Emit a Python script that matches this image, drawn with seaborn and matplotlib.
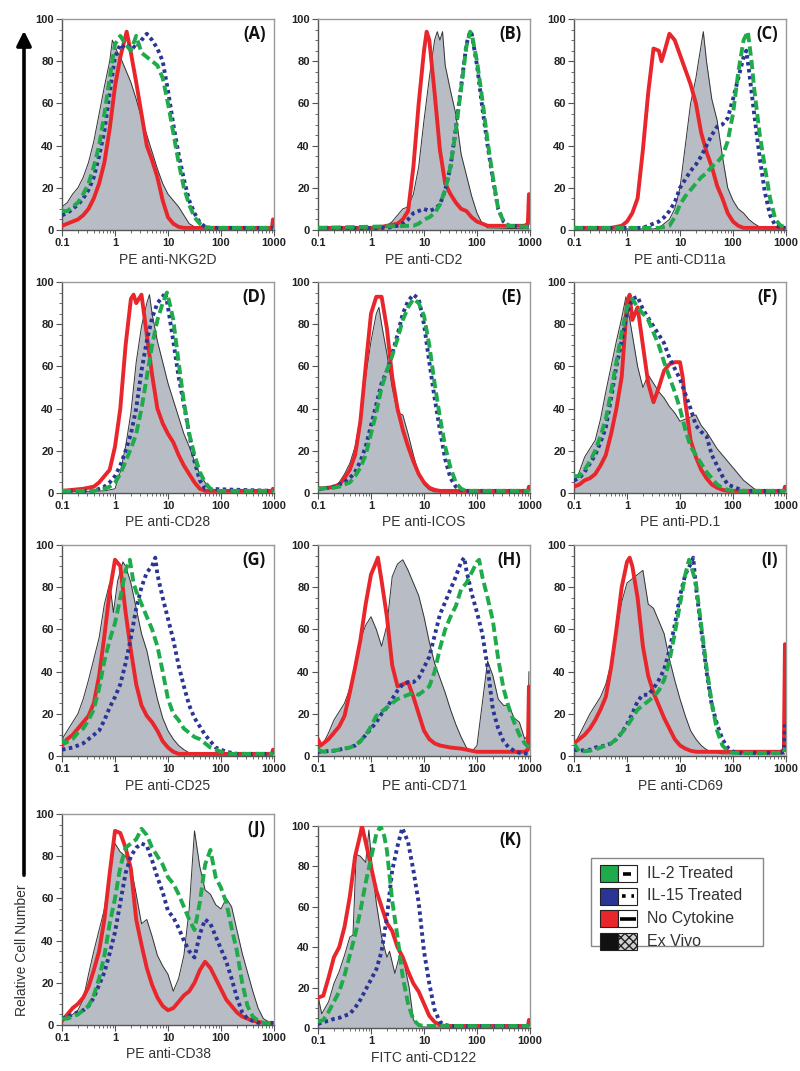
import numpy as np
import pandas as pd
import matplotlib
matplotlib.use('Agg')
import matplotlib.pyplot as plt
from matplotlib.patches import Rectangle
from matplotlib.ticker import LogLocator, NullFormatter, MultipleLocator
import seaborn as sns

# each curve: [log10(fluorescence), relative cell number]
A_GRAY = [[-1.0, 11], [-0.9, 13], [-0.8, 17], [-0.7, 20], [-0.6, 25], [-0.5, 32], [-0.4, 42], [-0.3, 55], [-0.2, 68], [-0.1, 80], [-0.05, 90], [0.05, 84], [0.1, 82], [0.2, 76], [0.3, 70], [0.4, 62], [0.5, 53], [0.6, 45], [0.7, 37], [0.8, 29], [0.9, 22], [1.0, 17], [1.1, 14], [1.2, 11], [1.3, 7], [1.4, 3], [1.5, 1.5], [1.6, 1], [2.98, 0.5]]
A_RED = [[-1.0, 2], [-0.8, 4], [-0.7, 5], [-0.6, 7], [-0.5, 10], [-0.4, 15], [-0.3, 22], [-0.2, 32], [-0.1, 48], [0.0, 68], [0.1, 82], [0.22, 94], [0.3, 84], [0.4, 70], [0.5, 55], [0.6, 40], [0.7, 33], [0.8, 25], [0.9, 14], [1.0, 6], [1.1, 3], [1.2, 1.5], [1.3, 1], [2.96, 1], [2.98, 5]]
A_BLUE = [[-1.0, 7], [-0.9, 8], [-0.8, 10], [-0.7, 12], [-0.6, 15], [-0.5, 19], [-0.4, 25], [-0.3, 35], [-0.2, 47], [-0.1, 65], [0.0, 82], [0.1, 88], [0.2, 86], [0.3, 88], [0.4, 86], [0.5, 90], [0.6, 93], [0.7, 90], [0.8, 86], [0.9, 80], [1.0, 66], [1.1, 50], [1.2, 36], [1.3, 24], [1.4, 14], [1.5, 8], [1.6, 3.5], [1.7, 1.5], [1.8, 1], [2.98, 1]]
A_GREEN = [[-1.0, 9], [-0.9, 9], [-0.8, 11], [-0.7, 13], [-0.6, 17], [-0.5, 22], [-0.4, 30], [-0.3, 40], [-0.2, 55], [-0.1, 72], [0.0, 88], [0.1, 92], [0.2, 88], [0.3, 85], [0.4, 92], [0.5, 84], [0.6, 82], [0.7, 80], [0.8, 78], [0.9, 72], [1.0, 60], [1.1, 46], [1.2, 32], [1.3, 20], [1.4, 12], [1.5, 6], [1.6, 3], [1.7, 1.5], [1.8, 1], [2.98, 1]]

B_GRAY = [[-1.0, 0.5], [0.2, 0.5], [0.3, 2], [0.4, 4], [0.5, 7], [0.6, 10], [0.7, 11], [0.8, 17], [0.9, 30], [1.0, 52], [1.1, 72], [1.2, 90], [1.25, 94], [1.3, 90], [1.35, 94], [1.4, 78], [1.5, 66], [1.6, 55], [1.7, 36], [1.8, 26], [1.9, 16], [2.0, 8], [2.1, 3], [2.2, 1], [2.98, 0.5]]
B_RED = [[-1.0, 1], [0.1, 1], [0.3, 2], [0.5, 3], [0.6, 5], [0.7, 9], [0.8, 30], [0.9, 60], [1.0, 85], [1.05, 94], [1.1, 90], [1.2, 65], [1.3, 38], [1.4, 22], [1.5, 17], [1.6, 13], [1.7, 10], [1.8, 9], [1.9, 6], [2.0, 4], [2.1, 3], [2.2, 2], [2.9, 2], [2.96, 3], [2.98, 17]]
B_BLUE = [[-1.0, 1], [0.3, 1], [0.5, 2], [0.6, 3], [0.7, 5], [0.8, 8], [0.9, 9], [1.0, 10], [1.1, 9], [1.2, 10], [1.3, 12], [1.4, 19], [1.5, 30], [1.6, 48], [1.7, 68], [1.8, 88], [1.87, 94], [1.9, 93], [2.0, 78], [2.1, 58], [2.2, 40], [2.3, 24], [2.4, 10], [2.5, 4], [2.6, 2], [2.98, 1.5]]
B_GREEN = [[-1.0, 1], [0.8, 2], [0.9, 3], [1.0, 5], [1.1, 6], [1.2, 8], [1.3, 12], [1.4, 19], [1.5, 30], [1.6, 47], [1.7, 67], [1.8, 87], [1.87, 94], [1.9, 93], [2.0, 80], [2.1, 62], [2.2, 42], [2.3, 25], [2.4, 10], [2.5, 4], [2.6, 2], [2.98, 1.5]]

C_GRAY = [[-1.0, 0.5], [0.5, 0.5], [0.6, 1], [0.7, 3], [0.8, 5], [0.9, 10], [1.0, 20], [1.1, 40], [1.2, 60], [1.3, 72], [1.35, 80], [1.44, 94], [1.5, 80], [1.6, 62], [1.7, 52], [1.8, 35], [1.9, 20], [2.0, 14], [2.1, 10], [2.2, 8], [2.3, 5], [2.4, 3], [2.5, 1.5], [2.6, 0.5], [2.98, 0.5]]
C_RED = [[-1.0, 1], [-0.3, 1], [-0.1, 2], [0.0, 4], [0.1, 8], [0.2, 15], [0.3, 38], [0.4, 65], [0.5, 86], [0.6, 85], [0.65, 80], [0.7, 84], [0.8, 93], [0.9, 90], [1.0, 83], [1.1, 76], [1.2, 69], [1.3, 60], [1.4, 46], [1.5, 37], [1.6, 30], [1.7, 21], [1.8, 15], [1.9, 8], [2.0, 4], [2.1, 2], [2.2, 1], [2.98, 1]]
C_BLUE = [[-1.0, 1], [0.3, 1], [0.4, 2], [0.5, 3], [0.6, 4], [0.7, 6], [0.8, 9], [0.9, 13], [1.0, 20], [1.1, 24], [1.2, 28], [1.3, 31], [1.4, 35], [1.5, 40], [1.6, 45], [1.7, 49], [1.8, 50], [1.9, 53], [2.0, 62], [2.1, 72], [2.2, 82], [2.25, 85], [2.3, 76], [2.4, 55], [2.5, 35], [2.6, 18], [2.7, 7], [2.8, 2], [2.98, 1]]
C_GREEN = [[-1.0, 1], [0.6, 1], [0.8, 2], [0.9, 6], [1.0, 12], [1.1, 16], [1.2, 19], [1.3, 22], [1.4, 25], [1.5, 27], [1.6, 30], [1.7, 32], [1.8, 35], [1.9, 42], [2.0, 55], [2.1, 75], [2.2, 90], [2.28, 94], [2.35, 80], [2.4, 67], [2.5, 46], [2.6, 30], [2.7, 15], [2.8, 5], [2.9, 2], [2.98, 1.5]]

D_GRAY = [[-1.0, 0.5], [-0.2, 1], [0.0, 2], [0.1, 10], [0.2, 22], [0.3, 38], [0.4, 62], [0.5, 79], [0.6, 90], [0.65, 94], [0.7, 85], [0.8, 72], [0.9, 62], [1.0, 52], [1.1, 44], [1.2, 36], [1.3, 28], [1.4, 22], [1.5, 15], [1.6, 9], [1.7, 5], [1.8, 2], [1.9, 1], [2.98, 0.5]]
D_RED = [[-1.0, 1], [-0.8, 1.5], [-0.6, 2], [-0.4, 3], [-0.3, 5], [-0.2, 8], [-0.1, 11], [0.0, 22], [0.1, 40], [0.2, 70], [0.3, 92], [0.35, 94], [0.4, 90], [0.5, 94], [0.6, 75], [0.7, 56], [0.8, 40], [0.9, 33], [1.0, 28], [1.1, 24], [1.2, 18], [1.3, 13], [1.4, 9], [1.5, 5], [1.6, 2], [1.7, 1], [2.96, 1], [2.98, 2]]
D_BLUE = [[-1.0, 1], [-0.4, 1], [-0.3, 2], [-0.2, 3], [-0.1, 5], [0.0, 8], [0.1, 13], [0.2, 20], [0.3, 28], [0.4, 40], [0.5, 58], [0.6, 72], [0.7, 83], [0.8, 90], [0.9, 93], [0.95, 95], [1.0, 88], [1.1, 72], [1.2, 55], [1.3, 42], [1.4, 28], [1.5, 15], [1.6, 6], [1.7, 2], [2.98, 1]]
D_GREEN = [[-1.0, 1], [-0.4, 1], [-0.2, 2], [-0.1, 3], [0.0, 5], [0.1, 9], [0.2, 15], [0.3, 21], [0.4, 28], [0.5, 40], [0.6, 55], [0.7, 70], [0.8, 82], [0.9, 90], [0.98, 95], [1.05, 88], [1.1, 82], [1.2, 62], [1.3, 43], [1.4, 28], [1.5, 18], [1.6, 10], [1.7, 5], [1.8, 2], [1.9, 1], [2.98, 1]]

E_GRAY = [[-1.0, 1], [-0.8, 2], [-0.7, 3], [-0.6, 5], [-0.5, 9], [-0.4, 14], [-0.3, 22], [-0.2, 36], [-0.1, 55], [0.0, 72], [0.1, 85], [0.15, 88], [0.2, 80], [0.3, 66], [0.4, 50], [0.5, 38], [0.6, 37], [0.7, 28], [0.8, 18], [0.9, 9], [1.0, 4], [1.1, 1.5], [1.2, 0.5], [2.98, 0.5]]
E_RED = [[-1.0, 2], [-0.8, 2.5], [-0.7, 3], [-0.6, 4], [-0.5, 7], [-0.4, 11], [-0.3, 18], [-0.2, 34], [-0.1, 60], [0.0, 85], [0.1, 93], [0.2, 93], [0.3, 78], [0.4, 55], [0.5, 40], [0.6, 30], [0.7, 22], [0.8, 15], [0.9, 9], [1.0, 5], [1.1, 2.5], [1.2, 1.5], [1.3, 1], [2.96, 1], [2.98, 3]]
E_BLUE = [[-1.0, 2], [-0.8, 2.5], [-0.7, 3], [-0.6, 4], [-0.5, 5], [-0.4, 7], [-0.3, 10], [-0.2, 15], [-0.1, 22], [0.0, 32], [0.1, 42], [0.2, 52], [0.3, 58], [0.4, 66], [0.5, 75], [0.6, 85], [0.7, 91], [0.8, 94], [0.9, 92], [1.0, 80], [1.1, 62], [1.2, 45], [1.3, 30], [1.4, 16], [1.5, 7], [1.6, 3], [1.7, 1.5], [1.8, 1], [2.98, 1]]
E_GREEN = [[-1.0, 2], [-0.7, 2.5], [-0.6, 3], [-0.5, 4], [-0.4, 5], [-0.3, 8], [-0.2, 12], [-0.1, 18], [0.0, 28], [0.1, 38], [0.2, 50], [0.3, 58], [0.4, 65], [0.5, 73], [0.6, 82], [0.7, 88], [0.8, 92], [0.9, 90], [1.0, 84], [1.1, 70], [1.2, 52], [1.3, 36], [1.4, 22], [1.5, 12], [1.6, 5], [1.7, 2], [1.8, 1], [2.98, 1]]

F_GRAY = [[-1.0, 5], [-0.9, 10], [-0.8, 17], [-0.7, 21], [-0.6, 25], [-0.5, 35], [-0.4, 48], [-0.3, 60], [-0.2, 72], [-0.1, 83], [-0.02, 93], [0.1, 75], [0.2, 60], [0.3, 50], [0.4, 56], [0.5, 52], [0.6, 48], [0.7, 45], [0.8, 41], [0.9, 38], [1.0, 34], [1.1, 35], [1.2, 36], [1.3, 37], [1.4, 32], [1.5, 29], [1.6, 25], [1.7, 21], [1.8, 18], [1.9, 15], [2.0, 12], [2.1, 9], [2.2, 6], [2.3, 4], [2.4, 2], [2.5, 1], [2.98, 0.5]]
F_RED = [[-1.0, 3], [-0.9, 4], [-0.8, 6], [-0.7, 7], [-0.6, 9], [-0.5, 13], [-0.4, 18], [-0.3, 28], [-0.2, 40], [-0.1, 55], [0.0, 90], [0.05, 94], [0.1, 82], [0.2, 88], [0.3, 70], [0.4, 52], [0.5, 43], [0.6, 50], [0.7, 58], [0.8, 61], [0.9, 62], [1.0, 62], [1.05, 55], [1.1, 43], [1.2, 25], [1.3, 17], [1.4, 11], [1.5, 7], [1.6, 4], [1.7, 2.5], [1.8, 1.5], [1.9, 1], [2.96, 1], [2.98, 3]]
F_BLUE = [[-1.0, 6], [-0.9, 7], [-0.8, 10], [-0.7, 14], [-0.6, 18], [-0.5, 24], [-0.4, 31], [-0.3, 45], [-0.2, 60], [-0.1, 72], [0.0, 85], [0.1, 92], [0.2, 93], [0.3, 87], [0.4, 83], [0.5, 79], [0.6, 75], [0.7, 71], [0.8, 64], [0.9, 59], [1.0, 54], [1.1, 47], [1.2, 40], [1.3, 32], [1.4, 29], [1.5, 27], [1.6, 18], [1.7, 13], [1.8, 8], [1.9, 4], [2.0, 3], [2.1, 2], [2.2, 1], [2.98, 1]]
F_GREEN = [[-1.0, 8], [-0.9, 8], [-0.8, 11], [-0.7, 15], [-0.6, 20], [-0.5, 27], [-0.4, 35], [-0.3, 48], [-0.2, 62], [-0.1, 76], [0.0, 88], [0.1, 92], [0.2, 88], [0.3, 85], [0.4, 82], [0.5, 76], [0.6, 70], [0.7, 62], [0.8, 55], [0.9, 48], [1.0, 40], [1.1, 30], [1.2, 22], [1.3, 18], [1.4, 14], [1.5, 10], [1.6, 7], [1.7, 4], [1.8, 2.5], [1.9, 1.5], [2.0, 1], [2.98, 1]]

G_GRAY = [[-1.0, 8], [-0.9, 12], [-0.8, 16], [-0.7, 20], [-0.6, 27], [-0.5, 36], [-0.4, 46], [-0.3, 56], [-0.2, 72], [-0.1, 82], [-0.03, 68], [0.05, 83], [0.15, 92], [0.2, 90], [0.3, 82], [0.4, 70], [0.5, 58], [0.6, 50], [0.7, 38], [0.8, 27], [0.9, 18], [1.0, 12], [1.1, 8], [1.2, 5], [1.3, 3], [1.4, 1.5], [1.5, 0.5], [2.98, 0.5]]
G_RED = [[-1.0, 5], [-0.9, 8], [-0.8, 10], [-0.7, 13], [-0.6, 16], [-0.5, 19], [-0.4, 25], [-0.3, 38], [-0.2, 57], [-0.1, 78], [0.0, 93], [0.1, 90], [0.2, 68], [0.3, 50], [0.4, 34], [0.5, 24], [0.6, 19], [0.7, 16], [0.8, 12], [0.9, 7], [1.0, 4], [1.1, 2], [1.2, 1], [2.96, 1], [2.98, 3]]
G_BLUE = [[-1.0, 3], [-0.8, 4], [-0.7, 5], [-0.6, 6], [-0.5, 8], [-0.4, 10], [-0.3, 12], [-0.2, 17], [-0.1, 23], [0.0, 28], [0.1, 34], [0.2, 44], [0.3, 56], [0.4, 70], [0.5, 80], [0.6, 87], [0.7, 90], [0.76, 94], [0.8, 86], [0.9, 75], [1.0, 65], [1.1, 55], [1.2, 43], [1.3, 33], [1.4, 24], [1.5, 18], [1.6, 14], [1.7, 10], [1.8, 7], [1.9, 4], [2.0, 3], [2.1, 2], [2.2, 1.5], [2.3, 1], [2.98, 1]]
G_GREEN = [[-1.0, 8], [-0.95, 6], [-0.8, 8], [-0.7, 11], [-0.6, 13], [-0.5, 17], [-0.4, 22], [-0.3, 32], [-0.2, 45], [-0.1, 55], [0.0, 63], [0.1, 75], [0.2, 88], [0.28, 93], [0.35, 82], [0.4, 78], [0.5, 72], [0.6, 66], [0.7, 60], [0.8, 52], [0.9, 40], [1.0, 27], [1.1, 20], [1.2, 17], [1.3, 13], [1.4, 11], [1.5, 9], [1.6, 8], [1.7, 6], [1.8, 4], [1.9, 3], [2.0, 2], [2.1, 1.5], [2.2, 1], [2.98, 1]]

H_GRAY = [[-1.0, 3], [-0.9, 6], [-0.8, 11], [-0.7, 17], [-0.6, 21], [-0.5, 25], [-0.4, 32], [-0.3, 40], [-0.2, 55], [-0.1, 62], [0.0, 66], [0.1, 60], [0.2, 52], [0.3, 62], [0.4, 85], [0.5, 91], [0.6, 93], [0.7, 88], [0.8, 82], [0.9, 76], [1.0, 66], [1.1, 54], [1.2, 44], [1.3, 37], [1.4, 30], [1.5, 22], [1.6, 15], [1.7, 9], [1.8, 4], [1.9, 2], [2.0, 5], [2.1, 25], [2.2, 45], [2.3, 38], [2.4, 27], [2.5, 24], [2.6, 24], [2.7, 18], [2.8, 16], [2.9, 8], [2.96, 10], [2.98, 40]]
H_RED = [[-1.0, 8], [-0.95, 5], [-0.8, 8], [-0.7, 11], [-0.6, 14], [-0.5, 19], [-0.4, 30], [-0.3, 42], [-0.2, 55], [-0.1, 72], [0.0, 86], [0.1, 92], [0.13, 94], [0.2, 83], [0.3, 66], [0.4, 43], [0.5, 33], [0.6, 34], [0.7, 35], [0.8, 28], [0.9, 20], [1.0, 12], [1.1, 8], [1.2, 6], [1.3, 5], [1.5, 4], [1.7, 3.5], [1.9, 2.5], [2.0, 2], [2.9, 2], [2.96, 3], [2.98, 33]]
H_BLUE = [[-1.0, 2], [-0.7, 2.5], [-0.6, 3], [-0.5, 3.5], [-0.4, 4], [-0.3, 5], [-0.2, 7], [-0.1, 10], [0.0, 13], [0.1, 16], [0.2, 20], [0.3, 23], [0.4, 27], [0.5, 31], [0.6, 34], [0.7, 35], [0.8, 35], [0.9, 37], [1.0, 42], [1.1, 47], [1.2, 57], [1.3, 67], [1.4, 73], [1.5, 79], [1.6, 85], [1.7, 92], [1.76, 94], [1.8, 88], [1.9, 77], [2.0, 68], [2.1, 58], [2.2, 42], [2.3, 22], [2.4, 13], [2.5, 7], [2.6, 4], [2.7, 2.5], [2.8, 1.5], [2.98, 1]]
H_GREEN = [[-1.0, 3], [-0.9, 2], [-0.7, 2.5], [-0.6, 3], [-0.5, 3.5], [-0.4, 4], [-0.3, 5], [-0.2, 7], [-0.1, 10], [0.0, 14], [0.1, 19], [0.2, 21], [0.3, 23], [0.4, 25], [0.5, 27], [0.6, 28], [0.7, 29], [0.8, 30], [0.9, 29], [1.0, 31], [1.1, 33], [1.2, 40], [1.3, 51], [1.4, 60], [1.5, 66], [1.6, 71], [1.7, 79], [1.8, 82], [1.9, 87], [2.0, 92], [2.04, 93], [2.1, 85], [2.2, 75], [2.3, 64], [2.4, 46], [2.5, 32], [2.6, 23], [2.7, 16], [2.8, 10], [2.9, 6], [2.98, 4]]

I_GRAY = [[-1.0, 5], [-0.9, 10], [-0.8, 15], [-0.7, 20], [-0.6, 24], [-0.5, 28], [-0.4, 34], [-0.3, 44], [-0.2, 58], [-0.1, 73], [0.0, 82], [0.1, 84], [0.2, 86], [0.3, 88], [0.4, 72], [0.5, 70], [0.6, 64], [0.7, 58], [0.8, 46], [0.9, 36], [1.0, 27], [1.1, 19], [1.2, 12], [1.3, 8], [1.4, 5], [1.5, 3], [1.6, 2], [1.7, 1.5], [1.8, 1], [2.98, 1]]
I_RED = [[-1.0, 6], [-0.9, 8], [-0.8, 10], [-0.7, 13], [-0.6, 17], [-0.5, 22], [-0.4, 28], [-0.3, 42], [-0.2, 60], [-0.1, 80], [0.0, 92], [0.05, 94], [0.1, 90], [0.2, 75], [0.3, 52], [0.4, 38], [0.5, 30], [0.6, 24], [0.7, 18], [0.8, 13], [0.9, 8], [1.0, 5], [1.1, 3.5], [1.2, 2.5], [1.3, 2], [2.9, 2], [2.96, 3], [2.98, 53]]
I_BLUE = [[-1.0, 3], [-0.9, 2.5], [-0.7, 3], [-0.6, 4], [-0.5, 4.5], [-0.4, 5], [-0.3, 6], [-0.2, 8], [-0.1, 11], [0.0, 15], [0.1, 20], [0.2, 26], [0.3, 29], [0.4, 29], [0.5, 32], [0.6, 36], [0.7, 41], [0.8, 50], [0.9, 62], [1.0, 76], [1.1, 86], [1.2, 91], [1.25, 94], [1.3, 80], [1.4, 60], [1.5, 40], [1.6, 24], [1.7, 15], [1.8, 8], [1.9, 4], [2.0, 2], [2.1, 1.5], [2.9, 1.5], [2.96, 2], [2.98, 15]]
I_GREEN = [[-1.0, 6], [-0.9, 2], [-0.7, 2.5], [-0.6, 3], [-0.5, 4], [-0.4, 5], [-0.3, 6], [-0.2, 8], [-0.1, 11], [0.0, 14], [0.1, 18], [0.2, 22], [0.3, 24], [0.4, 26], [0.5, 28], [0.6, 31], [0.7, 36], [0.8, 45], [0.9, 58], [1.0, 72], [1.1, 86], [1.17, 93], [1.2, 91], [1.3, 82], [1.4, 62], [1.5, 42], [1.6, 25], [1.7, 12], [1.8, 5], [1.9, 2.5], [2.0, 1.5], [2.96, 1.5], [2.98, 4]]

J_GRAY = [[-1.0, 2], [-0.9, 3], [-0.8, 5], [-0.7, 7], [-0.6, 12], [-0.5, 24], [-0.4, 35], [-0.3, 45], [-0.2, 55], [-0.1, 72], [0.0, 86], [0.1, 82], [0.2, 80], [0.3, 75], [0.4, 62], [0.5, 48], [0.6, 50], [0.7, 42], [0.8, 33], [0.9, 28], [1.0, 24], [1.1, 16], [1.2, 22], [1.3, 33], [1.4, 55], [1.5, 92], [1.6, 75], [1.7, 64], [1.8, 62], [1.9, 57], [2.0, 55], [2.1, 60], [2.2, 56], [2.3, 45], [2.4, 34], [2.5, 25], [2.6, 16], [2.7, 8], [2.8, 3], [2.9, 1.5], [2.98, 1]]
J_RED = [[-1.0, 2], [-0.9, 5], [-0.8, 8], [-0.7, 10], [-0.6, 13], [-0.5, 18], [-0.4, 26], [-0.3, 35], [-0.2, 50], [-0.1, 72], [0.0, 92], [0.1, 91], [0.2, 84], [0.3, 74], [0.4, 50], [0.5, 38], [0.6, 27], [0.7, 19], [0.8, 13], [0.9, 9], [1.0, 7], [1.1, 8], [1.2, 11], [1.3, 14], [1.4, 16], [1.5, 20], [1.6, 26], [1.7, 30], [1.8, 27], [1.9, 22], [2.0, 17], [2.1, 12], [2.2, 9], [2.3, 6], [2.4, 4], [2.5, 3], [2.6, 2], [2.7, 1.5], [2.8, 1], [2.98, 1]]
J_BLUE = [[-1.0, 3], [-0.9, 4], [-0.8, 5], [-0.7, 6], [-0.6, 7], [-0.5, 9], [-0.4, 13], [-0.3, 19], [-0.2, 25], [-0.1, 34], [0.0, 44], [0.1, 58], [0.2, 72], [0.3, 80], [0.4, 84], [0.5, 86], [0.6, 85], [0.7, 78], [0.8, 70], [0.9, 63], [1.0, 54], [1.1, 51], [1.2, 46], [1.3, 40], [1.4, 35], [1.5, 32], [1.6, 43], [1.7, 50], [1.8, 48], [1.9, 42], [2.0, 36], [2.1, 30], [2.2, 22], [2.3, 13], [2.4, 6], [2.5, 3], [2.6, 2], [2.7, 1], [2.98, 1]]
J_GREEN = [[-1.0, 3], [-0.9, 3], [-0.8, 4], [-0.7, 5], [-0.6, 7], [-0.5, 9], [-0.4, 14], [-0.3, 22], [-0.2, 33], [-0.1, 48], [0.0, 60], [0.1, 75], [0.2, 84], [0.3, 86], [0.4, 88], [0.5, 93], [0.6, 90], [0.7, 84], [0.8, 80], [0.9, 76], [1.0, 70], [1.1, 67], [1.2, 62], [1.3, 56], [1.4, 50], [1.5, 45], [1.6, 58], [1.7, 76], [1.8, 83], [1.9, 70], [2.0, 65], [2.1, 58], [2.2, 46], [2.3, 35], [2.4, 20], [2.5, 9], [2.6, 4], [2.7, 2], [2.8, 1], [2.98, 1]]

K_GRAY = [[-1.0, 16], [-0.93, 7], [-0.8, 13], [-0.7, 22], [-0.6, 28], [-0.5, 36], [-0.4, 45], [-0.34, 46], [-0.28, 86], [-0.2, 85], [-0.1, 82], [-0.04, 98], [0.02, 80], [0.1, 62], [0.2, 45], [0.3, 35], [0.35, 38], [0.45, 27], [0.55, 37], [0.62, 33], [0.72, 20], [0.8, 4], [0.9, 1], [1.0, 0.5], [2.98, 0.5]]
K_RED = [[-1.0, 15], [-0.9, 16], [-0.8, 25], [-0.7, 35], [-0.6, 40], [-0.5, 50], [-0.4, 65], [-0.3, 85], [-0.2, 96], [-0.17, 100], [-0.1, 92], [0.0, 80], [0.1, 68], [0.2, 60], [0.3, 52], [0.4, 48], [0.5, 40], [0.6, 35], [0.7, 28], [0.8, 22], [0.9, 18], [1.0, 12], [1.1, 6], [1.2, 3], [1.3, 1.5], [1.4, 1], [2.96, 1], [2.98, 4]]
K_BLUE = [[-1.0, 2], [-0.9, 3], [-0.8, 3.5], [-0.7, 4.5], [-0.6, 5], [-0.5, 6], [-0.4, 7], [-0.3, 10], [-0.2, 14], [-0.1, 19], [0.0, 24], [0.1, 29], [0.2, 38], [0.3, 55], [0.4, 78], [0.5, 90], [0.59, 99], [0.7, 92], [0.8, 78], [0.9, 62], [1.0, 38], [1.1, 22], [1.2, 9], [1.3, 3], [1.4, 1.5], [1.5, 1], [2.98, 1]]
K_GREEN = [[-1.0, 3], [-0.9, 4], [-0.8, 8], [-0.7, 13], [-0.6, 18], [-0.5, 26], [-0.4, 36], [-0.3, 46], [-0.2, 58], [-0.1, 72], [0.0, 84], [0.1, 96], [0.18, 100], [0.25, 95], [0.3, 88], [0.4, 63], [0.5, 45], [0.6, 25], [0.7, 12], [0.8, 4], [0.9, 1.5], [1.0, 1], [2.98, 1]]

LETTERS = ['A', 'B', 'C', 'D', 'E', 'F', 'G', 'H', 'I', 'J', 'K']
XLABELS = ['PE anti-NKG2D', 'PE anti-CD2', 'PE anti-CD11a', 'PE anti-CD28', 'PE anti-ICOS',
           'PE anti-PD.1', 'PE anti-CD25', 'PE anti-CD71', 'PE anti-CD69', 'PE anti-CD38',
           'FITC anti-CD122']
XTICKS = [0.1, 1, 10, 100, 1000]
XTICKLABELS = ['0.1', '1', '10', '100', '1000']
YTICKS = [0, 20, 40, 60, 80, 100]
LEGEND_LABELS = ['IL-2 Treated', 'IL-15 Treated', 'No Cytokine', 'Ex Vivo']

CURVES = {
    'A': (A_GRAY, A_RED, A_BLUE, A_GREEN), 'B': (B_GRAY, B_RED, B_BLUE, B_GREEN),
    'C': (C_GRAY, C_RED, C_BLUE, C_GREEN), 'D': (D_GRAY, D_RED, D_BLUE, D_GREEN),
    'E': (E_GRAY, E_RED, E_BLUE, E_GREEN), 'F': (F_GRAY, F_RED, F_BLUE, F_GREEN),
    'G': (G_GRAY, G_RED, G_BLUE, G_GREEN), 'H': (H_GRAY, H_RED, H_BLUE, H_GREEN),
    'I': (I_GRAY, I_RED, I_BLUE, I_GREEN), 'J': (J_GRAY, J_RED, J_BLUE, J_GREEN),
    'K': (K_GRAY, K_RED, K_BLUE, K_GREEN),
}

RED = '#e8262b'
BLUE = '#2b3595'
GREEN = '#1faa4b'
FILL = '#b8bdc5'

sns.set_style('ticks')
plt.rcParams['font.family'] = ['Liberation Sans', 'DejaVu Sans']

W, H = 800, 1071
fig = plt.figure(figsize=(8, 10.71), dpi=100)

# panel boxes in pixels: left, top, width, height
col_left = [62, 318, 574]
row_top = [19, 282, 545, 814]


def to_frame(pts):
    arr = np.array(pts, dtype=float)
    return pd.DataFrame({'x': 10 ** arr[:, 0], 'y': arr[:, 1]})


for i, letter in enumerate(LETTERS):
    r, c = divmod(i, 3)
    left, top, w, h = col_left[c], row_top[r], 212, 211
    if letter == 'K':
        top, h = 826, 202
    ax = fig.add_axes([left / W, 1 - (top + h) / H, w / W, h / H])
    gray, red, blue, green = [to_frame(p) for p in CURVES[letter]]

    ax.fill_between(gray['x'], gray['y'], color=FILL, lw=0, zorder=1)
    sns.lineplot(data=gray, x='x', y='y', ax=ax, color='#333333', lw=0.7,
                 sort=False, estimator=None, zorder=2)
    sns.lineplot(data=red, x='x', y='y', ax=ax, color=RED, lw=2.8,
                 sort=False, estimator=None, zorder=3)
    sns.lineplot(data=blue, x='x', y='y', ax=ax, color=BLUE, lw=2.8,
                 linestyle=(0, (0.9, 0.9)), sort=False, estimator=None, zorder=4)
    sns.lineplot(data=green, x='x', y='y', ax=ax, color=GREEN, lw=2.8,
                 linestyle=(0, (2.4, 1.1)), sort=False, estimator=None, zorder=5)

    ax.set_xscale('log')
    ax.set_xlim(0.1, 1000)
    ax.set_ylim(0, 100)
    ax.set_xticks(XTICKS)
    ax.set_xticklabels(XTICKLABELS)
    ax.xaxis.set_minor_locator(LogLocator(base=10, subs=np.arange(2, 10)))
    ax.xaxis.set_minor_formatter(NullFormatter())
    ax.set_yticks(YTICKS)
    ax.yaxis.set_minor_locator(MultipleLocator(5))
    ax.tick_params(which='major', length=4, width=0.8, color='#555555',
                   labelsize=8, labelcolor='#222222', pad=2)
    ax.tick_params(which='minor', length=2, width=0.6, color='#555555')
    for t in ax.get_xticklabels() + ax.get_yticklabels():
        t.set_fontweight('bold')
    for side in ['left', 'bottom']:
        ax.spines[side].set_color('#555555')
        ax.spines[side].set_linewidth(1.0)
    for side in ['top', 'right']:
        ax.spines[side].set_visible(True)
        ax.spines[side].set_color('#999999')
        ax.spines[side].set_linewidth(1.0)
    ax.set_xlabel(XLABELS[i], fontsize=10, color='#333333', labelpad=3)
    ax.set_ylabel('')
    ax.text(0.96, 0.93, '(%s)' % letter, transform=ax.transAxes, ha='right', va='center',
            fontsize=12, fontweight='bold', family=['Open Sans', 'DejaVu Sans'], color='#111111')

# overlay for the axis arrow and the legend box
ov = fig.add_axes([0, 0, 1, 1])
ov.set_xlim(0, W)
ov.set_ylim(H, 0)
ov.axis('off')
ov.annotate('', xy=(24, 28), xytext=(24, 878),
            arrowprops=dict(arrowstyle='-|>', lw=2.6, color='black', mutation_scale=22))
ov.text(22, 950, 'Relative Cell Number', rotation=90, ha='center', va='center',
        fontsize=10, color='#333333')

ov.add_patch(Rectangle((591, 858), 172, 88, fill=False, edgecolor='#888888', lw=1))
swatch = [GREEN, BLUE, RED, '#111111']
for k, label in enumerate(LEGEND_LABELS):
    y0 = 865 + k * 22.5
    ov.add_patch(Rectangle((600, y0), 18, 17, facecolor=swatch[k], edgecolor='#222222', lw=0.8))
    if k == 3:
        ov.add_patch(Rectangle((618, y0), 19, 17, facecolor='#d0d0d0', edgecolor='#222222',
                               lw=0.8, hatch='xxxx'))
    else:
        ov.add_patch(Rectangle((618, y0), 19, 17, facecolor='white', edgecolor='#222222', lw=0.8))
    yc = y0 + 8.5
    if k == 0:
        ov.plot([623, 631], [yc, yc], color='black', lw=2.6, solid_capstyle='butt')
    elif k == 1:
        ov.plot([622, 634], [yc, yc], color='black', lw=2.6, linestyle=(0, (1, 1.6)))
    elif k == 2:
        ov.plot([620, 636], [yc, yc], color='black', lw=2.6, solid_capstyle='butt')
    ov.text(647, yc, label, ha='left', va='center', fontsize=11.5, color='#333333')

fig.savefig('out.png', dpi=100)
